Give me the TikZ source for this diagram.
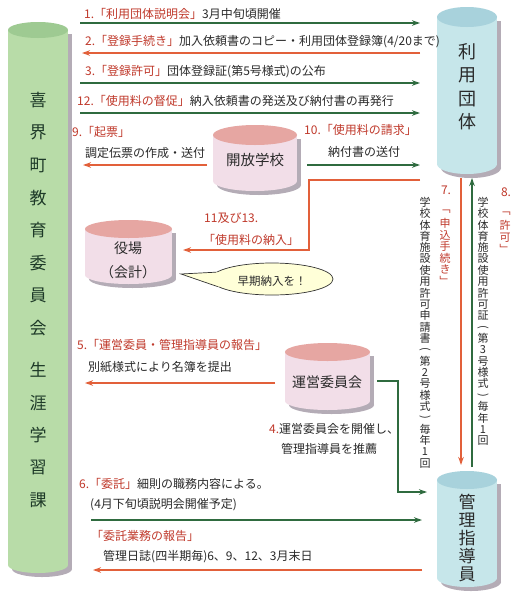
\documentclass[tikz,border=0pt]{standalone}
\usepackage{fontspec}
\usepackage{graphicx}
\setmainfont{Noto Sans CJK JP}
\usetikzlibrary{arrows.meta,shapes.geometric,calc}
\definecolor{grn}{HTML}{2F6B3F}
\definecolor{org}{HTML}{E2603A}
\definecolor{redt}{HTML}{C0392B}
\definecolor{txt}{HTML}{2A2A2A}
\definecolor{gtext}{HTML}{1E3A28}
\definecolor{gbody}{HTML}{B8DCA8}
\definecolor{gtop}{HTML}{9ECA92}
\definecolor{cbody}{HTML}{C6E6EA}
\definecolor{ctop}{HTML}{A8D2DC}
\definecolor{pbody}{HTML}{F2DEE8}
\definecolor{ptop}{HTML}{E6A6A2}
\definecolor{shad}{HTML}{B4ACB6}
\definecolor{bub}{HTML}{FFFFD8}
\makeatletter
\newcommand\vstack[2]{\vbox{\offinterlineskip\@tfor\vs@c:=#2\do{\vbox to #1{\vss\hbox to 1.5em{\hss\vs@c\hss}\vss}}}}
\makeatother
\newcommand\vpo{\rotatebox{-90}{(}}
\newcommand\vpc{\rotatebox{-90}{)}}
\newcommand\rt[1]{\textcolor{redt}{#1}}
% name, x1, x2, y top-centre, y bottom-centre, ry, body, top
\newcommand\mycyl[8]{%
  \pgfmathsetmacro\cylcx{(#2+#3)/2}%
  \pgfmathsetmacro\cylrx{(#3-#2)/2}%
  \pgfmathsetmacro\cylcy{(#4+#5)/2}%
  \pgfmathsetmacro\cylh{#5-#4+2*#6}%
  \fill[shad] (#2+4,#4+4) rectangle (#3+4,#5+4);
  \fill[shad] (\cylcx+4,#5+4) ellipse [x radius=\cylrx, y radius=#6];
  \fill[#7] (#2,#4) rectangle (#3,#5);
  \fill[#7] (\cylcx,#5) ellipse [x radius=\cylrx, y radius=#6];
  \fill[#8] (\cylcx,#4) ellipse [x radius=\cylrx, y radius=#6];
  \node[inner sep=0, outer sep=0, minimum width=2*\cylrx pt, minimum height=\cylh pt] (#1) at (\cylcx,\cylcy) {};
}
\begin{document}
\begin{tikzpicture}[x=1pt,y=-1pt,
  garrow/.style={draw=grn, line width=1.5pt, -{Stealth[length=8pt,width=5.5pt]}},
  oarrow/.style={draw=org, line width=1.5pt, -{Stealth[length=8pt,width=5.5pt]}},
  lbl/.style={anchor=west, inner sep=0, font=\fontsize{12}{12}\selectfont, text=txt},
  vlbl/.style={anchor=north, inner sep=0, font=\fontsize{11}{11}\selectfont, text=txt},
  ctext/.style={inner sep=0, text=txt, align=center}]
\useasboundingbox (0,0) rectangle (520,600);
\fill[white] (0,0) rectangle (520,600);

% cylinders
\mycyl{kyoiku}{8}{68}{30}{565}{8}{gbody}{gtop}
\mycyl{dantai}{437}{497}{17}{164}{10}{cbody}{ctop}
\mycyl{kanri}{437}{497}{480}{578}{9}{cbody}{ctop}
\mycyl{kaiho}{213}{297}{135}{181}{10}{pbody}{ptop}
\mycyl{yakuba}{85}{172}{229}{275}{9}{pbody}{ptop}
\mycyl{unei}{285}{370}{352}{401}{9}{pbody}{ptop}

\node[ctext, anchor=north, text=gtext, font=\fontsize{17}{17}\selectfont] (kyoikuA) at (38,83.75) {\vstack{32.5pt}{喜界町教育委員会}};
\node[ctext, anchor=north, text=gtext, font=\fontsize{17}{17}\selectfont] (kyoikuB) at (38,353.75) {\vstack{32.5pt}{生涯学習課}};
\node[ctext, anchor=north, font=\fontsize{18}{18}\selectfont] (dantaiT) at (467,40.3) {\vstack{23.3pt}{利用団体}};
\node[ctext, anchor=north, font=\fontsize{17}{17}\selectfont] (kanriT) at (467,493) {\vstack{18pt}{管理指導員}};
\node[ctext, font=\fontsize{14.5}{14.5}\selectfont] (kaihoT) at (255,160) {開放学校};
\node[ctext, font=\fontsize{14}{24}\selectfont] (yakubaT) at (128,260) {役場\\（会計）};
\node[ctext, font=\fontsize{14}{14}\selectfont] (uneiT) at (327,382) {運営委員会};

% horizontal arrows
\draw[garrow, shorten <=12pt, shorten >=17pt] (kyoiku.east |- 0,23) -- (dantai.west |- 0,23);
\draw[oarrow, shorten <=17pt, shorten >=14pt] (dantai.west |- 0,53) -- (kyoiku.east |- 0,53);
\draw[garrow, shorten <=12pt, shorten >=17pt] (kyoiku.east |- 0,83) -- (dantai.west |- 0,83);
\draw[garrow, shorten <=12pt, shorten >=17pt] (kyoiku.east |- 0,113) -- (dantai.west |- 0,113);
\draw[oarrow, shorten <=6pt, shorten >=15pt] (kaiho.west |- 0,165) -- (kyoiku.east |- 0,165);
\draw[garrow, shorten <=10pt, shorten >=17pt] (kaiho.east |- 0,165) -- (dantai.west |- 0,165);
\draw[oarrow, shorten <=17pt, shorten >=11pt] (dantai.west |- 0,180) -- (309,180) -- (309,250) -- (yakuba.east |- 0,250);
\draw[oarrow, shorten <=10pt, shorten >=17pt] (unei.west |- 0,383) -- (kyoiku.east |- 0,383);
\draw[garrow, shorten <=7pt, shorten >=10pt] (unei.east |- 0,381) -- (398,381) -- (398,492) -- (kanri.west |- 0,492);
\draw[garrow, shorten <=23pt, shorten >=15pt] (kyoiku.east |- 0,520) -- (kanri.west |- 0,520);
\draw[oarrow, shorten <=15pt, shorten >=25pt] (kanri.west |- 0,570) -- (kyoiku.east |- 0,570);

% vertical arrows
\draw[oarrow, shorten <=4pt, shorten >=6pt] (461,0 |- dantai.south) -- (461,0 |- kanri.north);
\draw[garrow, shorten <=4pt, shorten >=4pt] (472,0 |- kanri.north) -- (472,0 |- dantai.south);

% bubble
\node[ellipse, draw=black!80, line width=0.7pt, fill=bub, minimum width=122pt, minimum height=32pt, inner sep=0] (bubble) at (272,279) {};
\coordinate (btip) at (181,274);
\fill[bub] (btip) -- (bubble.173) -- ($(bubble.173)!3pt!(bubble.center)$) -- ($(bubble.188)!3pt!(bubble.center)$) -- (bubble.188) -- cycle;
\draw[black!80, line width=0.7pt] (bubble.173) -- (btip) -- (bubble.188);
\node[ctext, font=\fontsize{11.5}{11.5}\selectfont] (bubbleT) at (272,281) {早期納入を！};

% labels
\node[lbl] (l1) at (84,14) {\rt{1.「利用団体説明会」}3月中旬頃開催};
\node[lbl] (l2) at (85,42) {\rt{2.「登録手続き」}加入依頼書のコピー・利用団体登録簿(4/20まで)};
\node[lbl] (l3) at (85,72) {\rt{3.「登録許可」}団体登録証(第5号様式)の公布};
\node[lbl] (l12) at (77,101) {\rt{12.「使用料の督促」}納入依頼書の発送及び納付書の再発行};
\node[lbl] (l9a) at (72,132) {\rt{9.「起票」}};
\node[lbl] (l9b) at (85,153) {調定伝票の作成・送付};
\node[lbl] (l10a) at (304,130) {\rt{10.「使用料の請求」}};
\node[lbl] (l10b) at (328,152) {納付書の送付};
\node[lbl] (l11a) at (204,218) {\rt{11及び13.}};
\node[lbl] (l11b) at (203,240) {\rt{「使用料の納入」}};
\node[lbl] (l5a) at (77,345) {\rt{5.「運営委員・管理指導員の報告」}};
\node[lbl] (l5b) at (88,367) {別紙様式により名簿を提出};
\node[lbl] (l4a) at (269,429) {\rt{4.}運営委員会を開催し、};
\node[lbl] (l4b) at (281,449) {管理指導員を推薦};
\node[lbl] (l6a) at (79,484) {\rt{6.「委託」}細則の職務内容による。};
\node[lbl] (l6b) at (90,505) {(4月下旬頃説明会開催予定)};
\node[lbl] (l7a) at (91,536) {\rt{「委託業務の報告」}};
\node[lbl] (l7b) at (103,557) {管理日誌(四半期毎)6、9、12、3月末日};

% vertical labels
\node[ctext, text=redt, font=\fontsize{12}{12}\selectfont] (n7) at (446,190) {7.};
\node[vlbl, text=redt] (v7r) at (445,206.25) {\vstack{11.5pt}{﹁申込手続き﹂}};
\node[vlbl] (v7) at (425,196.3) {\vstack{11.35pt}{学校体育施設使用許可申請書\vpo 第2号様式\vpc 毎年1回}};
\node[ctext, text=redt, font=\fontsize{12}{12}\selectfont] (n8) at (506,192) {8.};
\node[vlbl, text=redt] (v8r) at (505,208.25) {\vstack{11.5pt}{﹁許可﹂}};
\node[vlbl] (v8) at (483,196.3) {\vstack{11.35pt}{学校体育施設使用許可証\vpo 第3号様式\vpc 毎年1回}};
\end{tikzpicture}
\end{document}
